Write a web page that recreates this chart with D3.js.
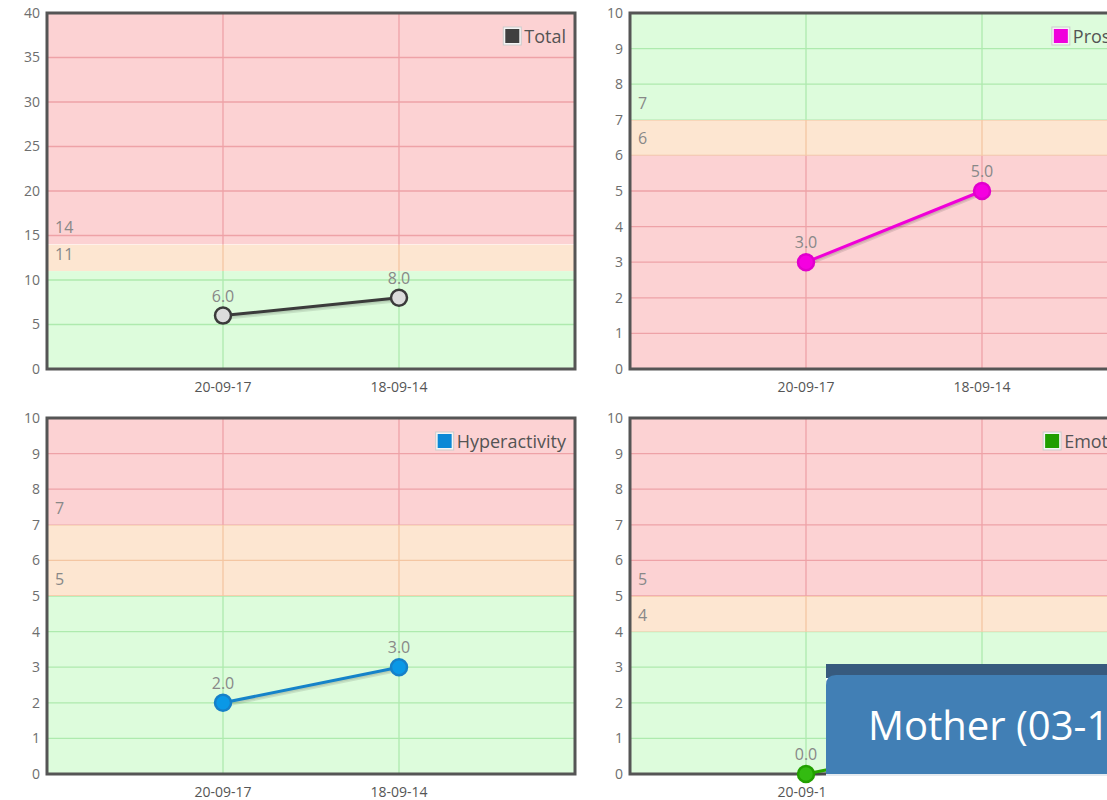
<!DOCTYPE html>
<html>
<head>
<meta charset="utf-8">
<script src="https://cdn.jsdelivr.net/npm/d3@7"></script>
<style>
    body { margin: 0; overflow: hidden; background: #fff; }
    svg { display: block; font-family: "Open Sans", sans-serif; }
</style>
</head>
<body>
<div id="charts"></div>
<script>
// sessions on the x axis
const dates = ["20-09-17", "18-09-14"];

// scores per scale
const totalValues = [6, 8];
const prosocialValues = [3, 5];
const hyperactivityValues = [2, 3];
const emotionalValues = [0, 1];

// cut-offs: [lower, upper] band limits
const totalCuts = [11, 14];
const prosocialCuts = [6, 7];
const hyperactivityCuts = [5, 7];
const emotionalCuts = [4, 5];

const totalTicks = [0, 5, 10, 15, 20, 25, 30, 35, 40];
const smallTicks = [0, 1, 2, 3, 4, 5, 6, 7, 8, 9, 10];

const width = 1107, height = 800;

const colors = {
    red: { fill: "#fcd2d3", grid: "#eea2a7" },
    orange: { fill: "#fde6d1", grid: "#f4c6a2" },
    green: { fill: "#ddfcdc", grid: "#aeeaae" }
};

const charts = [
    { name: "Total", values: totalValues, cuts: totalCuts, ticks: totalTicks, max: 40, reverse: false,
      line: "#3b3b3b", dot: "#dcdcdc", dotStroke: "#3b3b3b", legend: "#404040", x: 47, y: 13 },
    { name: "Prosocial", values: prosocialValues, cuts: prosocialCuts, ticks: smallTicks, max: 10, reverse: true,
      line: "#f000d8", dot: "#f500e0", dotStroke: "#e000cc", legend: "#f000dc", x: 630, y: 13 },
    { name: "Hyperactivity", values: hyperactivityValues, cuts: hyperactivityCuts, ticks: smallTicks, max: 10, reverse: false,
      line: "#1683c9", dot: "#0a98e6", dotStroke: "#1680c8", legend: "#0a88d6", x: 47, y: 418 },
    { name: "Emotional", values: emotionalValues, cuts: emotionalCuts, ticks: smallTicks, max: 10, reverse: false,
      line: "#27a800", dot: "#33bb11", dotStroke: "#22a000", legend: "#1f9e00", x: 630, y: 418 }
];

const plotW = 528, plotH = 356;

const svg = d3.select("#charts").append("svg")
    .attr("width", width)
    .attr("height", height);

charts.forEach(function (c, ci) {
    const g = svg.append("g").attr("transform", "translate(" + c.x + "," + c.y + ")");

    const x = d3.scaleLinear().domain([0, dates.length + 1]).range([0, plotW]);
    const y = d3.scaleLinear().domain([0, c.max]).range([plotH, 0]);

    // bands: low / middle / high
    const bands = [
        { from: 0, to: c.cuts[0], col: c.reverse ? colors.red : colors.green },
        { from: c.cuts[0], to: c.cuts[1], col: colors.orange },
        { from: c.cuts[1], to: c.max, col: c.reverse ? colors.green : colors.red }
    ];

    bands.forEach(function (b, bi) {
        const id = "clip" + ci + "_" + bi;
        g.append("clipPath").attr("id", id)
            .append("rect")
            .attr("x", 0).attr("width", plotW)
            .attr("y", y(b.to)).attr("height", y(b.from) - y(b.to));

        const bg = g.append("g").attr("clip-path", "url(#" + id + ")");
        bg.append("rect")
            .attr("x", 0).attr("width", plotW)
            .attr("y", y(b.to)).attr("height", y(b.from) - y(b.to))
            .attr("fill", b.col.fill);

        bg.selectAll(".hgrid").data(c.ticks).enter().append("line")
            .attr("x1", 0).attr("x2", plotW)
            .attr("y1", d => y(d)).attr("y2", d => y(d))
            .attr("stroke", b.col.grid).attr("stroke-width", 1.3);

        bg.selectAll(".vgrid").data(dates).enter().append("line")
            .attr("x1", (d, i) => x(i + 1)).attr("x2", (d, i) => x(i + 1))
            .attr("y1", 0).attr("y2", plotH)
            .attr("stroke", b.col.grid).attr("stroke-width", 1.3);
    });

    // cut-off labels
    g.selectAll(".cut").data(c.cuts).enter().append("text")
        .attr("x", 8)
        .attr("y", d => y(d) - 11)
        .attr("fill", "#888")
        .style("font-size", "16px")
        .text(d => d);

    // frame
    g.append("rect")
        .attr("x", 0).attr("y", 0)
        .attr("width", plotW).attr("height", plotH)
        .attr("fill", "none")
        .attr("stroke", "#555")
        .attr("stroke-width", 3);

    // y axis labels
    g.selectAll(".ytick").data(c.ticks).enter().append("text")
        .attr("x", -7)
        .attr("y", d => y(d))
        .attr("dy", "0.35em")
        .attr("text-anchor", "end")
        .attr("fill", "#6e6e6e")
        .style("font-size", "14px")
        .text(d => d);

    // x axis labels
    g.selectAll(".xtick").data(dates).enter().append("text")
        .attr("x", (d, i) => x(i + 1))
        .attr("y", plotH + 23)
        .attr("text-anchor", "middle")
        .attr("fill", "#555")
        .style("font-size", "14px")
        .text(d => d);

    const pts = c.values.map((v, i) => [x(i + 1), y(v)]);
    const line = d3.line();

    // shadow like flot
    g.append("path")
        .attr("d", line(pts))
        .attr("transform", "translate(0,2.5)")
        .attr("fill", "none")
        .attr("stroke", "rgba(0,0,0,0.1)")
        .attr("stroke-width", 4);
    g.append("path")
        .attr("d", line(pts))
        .attr("transform", "translate(0,1.5)")
        .attr("fill", "none")
        .attr("stroke", "rgba(0,0,0,0.08)")
        .attr("stroke-width", 3);

    g.append("path")
        .attr("d", line(pts))
        .attr("fill", "none")
        .attr("stroke", c.line)
        .attr("stroke-width", 3);

    g.selectAll(".dot").data(c.values).enter().append("circle")
        .attr("cx", (d, i) => x(i + 1))
        .attr("cy", d => y(d))
        .attr("r", 8)
        .attr("fill", c.dot)
        .attr("stroke", c.dotStroke)
        .attr("stroke-width", 2.5);

    g.selectAll(".val").data(c.values).enter().append("text")
        .attr("x", (d, i) => x(i + 1))
        .attr("y", d => y(d) - 14)
        .attr("text-anchor", "middle")
        .attr("fill", "#888")
        .style("font-size", "16px")
        .text(d => d.toFixed(1));

    // legend, top right
    const leg = g.append("g");
    const label = leg.append("text")
        .attr("y", 30)
        .attr("fill", "#545454")
        .style("font-size", "18px")
        .text(c.name);
    const tw = label.node().getComputedTextLength();
    const tx = plotW - 9 - tw;
    label.attr("x", tx);
    leg.append("rect")
        .attr("x", tx - 21).attr("y", 14)
        .attr("width", 18).attr("height", 18)
        .attr("fill", "#f4f4f4")
        .attr("stroke", "#ccc")
        .attr("stroke-width", 1);
    leg.append("rect")
        .attr("x", tx - 19).attr("y", 16)
        .attr("width", 14).attr("height", 14)
        .attr("fill", c.legend);
});

// overlay tab from the page
const tab = svg.append("g");
tab.append("rect")
    .attr("x", 826).attr("y", 664)
    .attr("width", width - 826).attr("height", height - 664)
    .attr("fill", "#fff");
tab.append("rect")
    .attr("x", 826).attr("y", 664)
    .attr("width", width - 826).attr("height", 14)
    .attr("fill", "#375a7e");
tab.append("path")
    .attr("d", "M826,774 L826,685 Q826,675 836,675 L" + width + ",675 L" + width + ",774 Z")
    .attr("fill", "#417fb5");
tab.append("line")
    .attr("x1", 826).attr("x2", width)
    .attr("y1", 775).attr("y2", 775)
    .attr("stroke", "#dde3ea").attr("stroke-width", 1.5);
tab.append("text")
    .attr("x", 868).attr("y", 740)
    .attr("fill", "#fff")
    .style("font-size", "40px")
    .text("Mother (03-1");
</script>
</body>
</html>
